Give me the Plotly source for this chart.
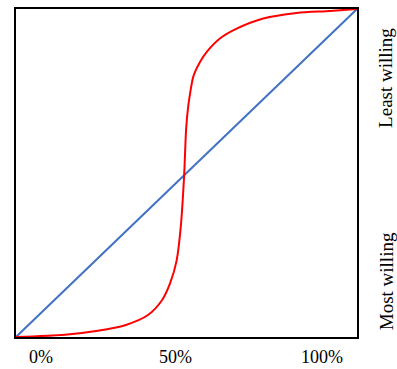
import plotly.graph_objects as go

# Red S-curve (share of population vs. willingness)
curve_x = [0.0, 0.144, 0.240, 0.320, 0.387, 0.428, 0.452, 0.471, 0.483, 0.493,
           0.499, 0.505, 0.510, 0.520, 0.540, 0.560, 0.598, 0.647, 0.725, 0.823, 0.921, 1.0]
curve_y = [0.0, 0.007, 0.019, 0.036, 0.067, 0.112, 0.164, 0.233, 0.334, 0.491,
           0.636, 0.703, 0.739, 0.794, 0.839, 0.870, 0.910, 0.940, 0.971, 0.988, 0.994, 1.0]

# Blue diagonal reference line
diag_x = [0.0, 1.0]
diag_y = [0.0, 1.0]

tick_labels = ["0%", "50%", "100%"]
tick_pos = [0.073, 0.469, 0.897]
side_labels = ["Least willing", "Most willing"]
side_pos = [0.79, 0.17]

font_family = "Liberation Serif"

fig = go.Figure()
fig.add_trace(go.Scatter(x=diag_x, y=diag_y, mode="lines",
                         line=dict(color="#4472C4", width=2), hoverinfo="skip"))
fig.add_trace(go.Scatter(x=curve_x, y=curve_y, mode="lines",
                         line=dict(color="#FF0000", width=2, shape="spline", smoothing=0.8),
                         hoverinfo="skip"))

annotations = []
for lab, p in zip(tick_labels, tick_pos):
    annotations.append(dict(text=lab, x=p, y=0, xref="x", yref="paper",
                            yshift=-20, xanchor="center", yanchor="middle",
                            showarrow=False, font=dict(family=font_family, size=18, color="black")))
for lab, p in zip(side_labels, side_pos):
    annotations.append(dict(text=lab, x=1, y=p, xref="paper", yref="paper",
                            xshift=29, xanchor="center", yanchor="middle", textangle=-90,
                            showarrow=False, font=dict(family=font_family, size=19, color="black")))

fig.update_layout(
    width=397, height=369,
    margin=dict(l=16, r=40, t=7, b=32),
    paper_bgcolor="white", plot_bgcolor="white",
    showlegend=False,
    annotations=annotations,
    xaxis=dict(range=[0, 1], showgrid=False, zeroline=False, showticklabels=False,
               ticks="", showline=True, mirror=True, linecolor="black", linewidth=2),
    yaxis=dict(range=[0, 1], showgrid=False, zeroline=False, showticklabels=False,
               ticks="", showline=True, mirror=True, linecolor="black", linewidth=2),
)

fig.write_html("out.html", config={"displayModeBar": False},
               post_script="document.body.style.margin='0';document.body.style.padding='0';document.body.style.overflow='hidden';")
